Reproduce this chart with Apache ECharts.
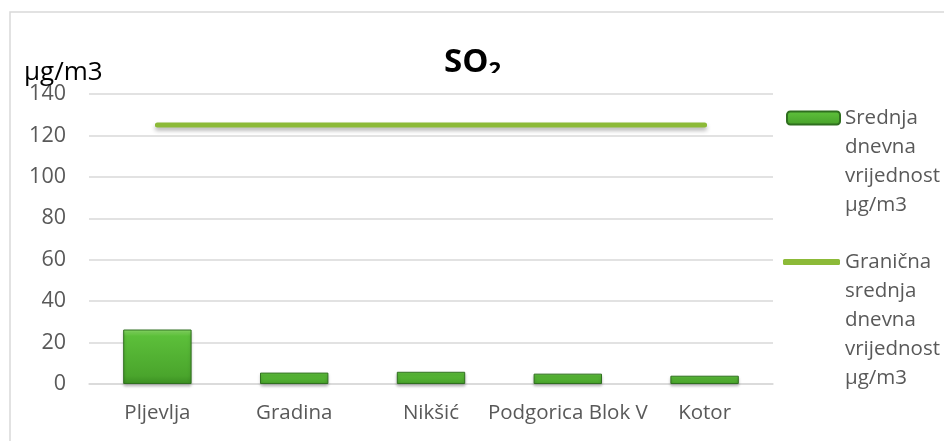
<!DOCTYPE html>
<html>
<head>
<meta charset="utf-8">
<script src="https://cdn.jsdelivr.net/npm/echarts@6/dist/echarts.min.js"></script>
<style>
  html, body { margin: 0; padding: 0; background: #fff; }
  #chart { width: 944px; height: 441px; }
</style>
</head>
<body>
<div id="chart"></div>
<script>
// podaci
const stations = ['Pljevlja', 'Gradina', 'Nikšić', 'Podgorica Blok V', 'Kotor'];
const dailyMean = [26.3, 5.5, 5.9, 5.0, 4.0];
const dailyLimit = [125, 125, 125, 125, 125];
const yTicks = [0, 20, 40, 60, 80, 100, 120, 140];

const barName = 'Srednja\ndnevna\nvrijednost\nµg/m3';
const lineName = 'Granična\nsrednja\ndnevna\nvrijednost\nµg/m3';

const font = '"Open Sans", "Noto Sans", sans-serif';
const labelColor = '#595959';

const chart = echarts.init(document.getElementById('chart'));

const barFill = new echarts.graphic.LinearGradient(0, 0, 0, 1, [
  { offset: 0, color: '#8ee46b' },
  { offset: 0.12, color: '#5cbf3a' },
  { offset: 0.85, color: '#4aa52c' },
  { offset: 1, color: '#3b8e22' }
]);

// prazni redovi iznad teksta da simbol stoji uz prvi red
function padTop(name) {
  const n = name.split('\n').length - 1;
  return '\n'.repeat(n) + name;
}

const option = {
  animation: false,
  title: [
    {
      text: 'SO{sub|2}',
      left: 439,
      top: 39,
      textStyle: {
        fontFamily: font,
        fontWeight: 'bold',
        fontSize: 33,
        color: '#000',
        rich: {
          sub: { fontFamily: font, fontWeight: 'bold', fontSize: 22, color: '#000', padding: [16, 0, 0, 0] }
        }
      }
    },
    {
      text: 'µg/m3',
      left: 19,
      top: 55,
      textStyle: { fontFamily: font, fontWeight: 'normal', fontSize: 26, color: '#000' }
    }
  ],
  graphic: [
    {
      type: 'rect',
      z: 100,
      shape: { x: 10, y: 12, width: 960, height: 460 },
      style: { fill: 'none', stroke: '#d9d9d9', lineWidth: 1.5 },
      silent: true
    },
    {
      type: 'rect',
      z: 50,
      shape: { x: 420, y: 73, width: 120, height: 20 },
      style: { fill: '#fff' },
      silent: true
    }
  ],
  legend: [
    {
      left: 786,
      top: 16.5,
      padding: 0,
      itemWidth: 53,
      itemHeight: 13,
      data: [barName],
      formatter: padTop,
      textStyle: { fontFamily: font, fontSize: 20.5, color: labelColor, lineHeight: 29 }
    },
    {
      left: 783,
      top: 131.5,
      padding: 0,
      itemWidth: 57,
      itemHeight: 6,
      data: [{ name: lineName, icon: 'roundRect', itemStyle: { color: '#8cba38' } }],
      formatter: padTop,
      textStyle: { fontFamily: font, fontSize: 20.5, color: labelColor, lineHeight: 29 }
    }
  ],
  grid: { left: 89, right: 171, top: 94, bottom: 57, containLabel: false },
  xAxis: {
    type: 'category',
    data: stations,
    axisLine: { show: true, lineStyle: { color: '#d9d9d9', width: 1.5 } },
    axisTick: { show: false },
    axisLabel: { fontFamily: font, fontSize: 20.5, color: labelColor, margin: 19, interval: 0 }
  },
  yAxis: {
    type: 'value',
    min: yTicks[0],
    max: yTicks[yTicks.length - 1],
    interval: yTicks[1] - yTicks[0],
    axisLine: { show: false },
    axisTick: { show: false },
    axisLabel: { fontFamily: font, fontSize: 21.5, color: labelColor, margin: 23 },
    splitLine: { lineStyle: { color: '#d9d9d9', width: 1.5 } }
  },
  series: [
    {
      name: barName,
      type: 'bar',
      data: dailyMean,
      barWidth: '50%',
      itemStyle: {
        color: barFill,
        borderColor: '#2f6f1f',
        borderWidth: 1,
        shadowColor: 'rgba(0,0,0,0.25)',
        shadowBlur: 3,
        shadowOffsetY: 2
      }
    },
    {
      name: lineName,
      type: 'line',
      data: dailyLimit,
      symbol: 'none',
      lineStyle: {
        color: '#8cba38',
        width: 5,
        cap: 'round',
        shadowColor: 'rgba(0,0,0,0.3)',
        shadowBlur: 4,
        shadowOffsetY: 3
      },
      itemStyle: { color: '#8cba38' }
    }
  ]
};

chart.setOption(option);
</script>
</body>
</html>
